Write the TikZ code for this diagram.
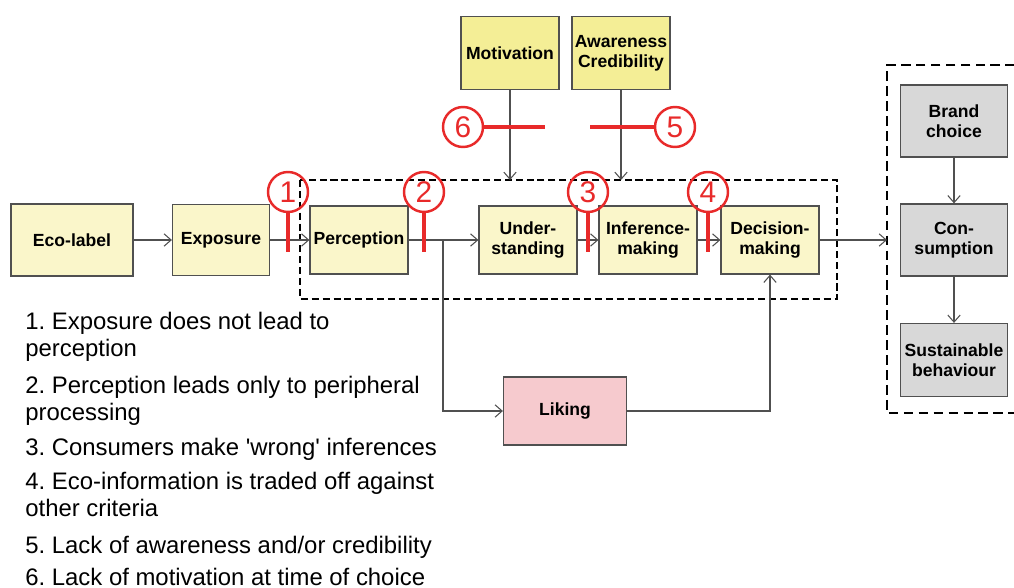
\documentclass[tikz,border=0pt]{standalone}
\usepackage{fontspec}
\setmainfont{Liberation Sans}
\usepackage{xcolor}
\usepackage{tikz}
\usetikzlibrary{arrows.meta}
\frenchspacing

\definecolor{stagefill}{RGB}{250,246,202}
\definecolor{factorfill}{RGB}{244,238,150}
\definecolor{outfill}{RGB}{216,216,216}
\definecolor{likefill}{RGB}{246,202,206}
\definecolor{failred}{RGB}{232,42,42}
\definecolor{edgegray}{RGB}{80,80,80}

\tikzset{
    box/.style={draw=edgegray, line width=0.7pt, align=center, inner sep=1pt,
        font=\bfseries\fontsize{10}{11.5}\selectfont},
    stagebox/.style={box, fill=stagefill, minimum width=1.96cm, minimum height=1.36cm},
    factorbox/.style={box, fill=factorfill, minimum width=1.96cm, minimum height=1.46cm},
    outbox/.style={box, fill=outfill, minimum width=2.14cm, minimum height=1.44cm},
    flow/.style={->, draw=edgegray, line width=0.6pt},
    groupbox/.style={line width=1.2pt, dash pattern=on 4pt off 2.2pt},
    failnum/.style={circle, draw=failred, line width=1.4pt, minimum size=0.8cm, inner sep=0pt,
        text=failred, font=\fontsize{17}{17}\selectfont},
    failbar/.style={draw=failred, line width=2pt},
    itemtext/.style={anchor=base west, inner sep=0pt, align=left,
        font=\fontsize{13.6}{15.3}\selectfont}
}

\begin{document}
\begin{tikzpicture}[x=0.02cm, y=-0.02cm, >={Straight Barb[length=4pt,width=7pt]}]
        \useasboundingbox (0,0) rectangle (1014,588);
        % dashed groups
        \draw[groupbox] (300,180) coordinate (innw) rectangle (837,299);
        \draw[groupbox, dash pattern=on 5.5pt off 3pt] (1030,65) -- (887,65) coordinate (outnw)
            -- (887,413) -- (1030,413);
        \coordinate (outin) at (887,240);

        % main chain
        \node[stagebox, minimum width=2.44cm, minimum height=1.44cm] (eco) at (72,240) {Eco-label};
        \node[stagebox, minimum width=1.94cm, minimum height=1.42cm] (exp) at (221,240) {Exposure};
        \node[stagebox] (per) at (359,240) {Perception};
        \node[stagebox] (und) at (528,240) {Under-\\standing};
        \node[stagebox] (inf) at (648,240) {Inference-\\making};
        \node[stagebox] (dec) at (770,240) {Decision-\\making};
        \node[stagebox, fill=likefill, minimum width=2.46cm] (lik) at (565,411) {Liking};

        % factors
        \node[factorbox] (mot) at (510,53) {Motivation};
        \node[factorbox] (awa) at (621,53) {Awareness\\Credibility};

        % outcomes
        \node[outbox] (bra) at (954,121) {Brand\\choice};
        \node[outbox] (con) at (954,240) {Con-\\sumption};
        \node[outbox, minimum height=1.46cm] (sus) at (954,360) {Sustainable\\behaviour};

        \draw[flow] (eco) -- (exp);
        \draw[flow] (exp) -- (per);
        \draw[flow] (per) -- (und);
        \draw[flow] (und) -- (inf);
        \draw[flow] (inf) -- (dec);
        \draw[flow] (dec) -- (outin);
        \coordinate (split) at (443,240);
        \draw[flow] (split) |- (lik);
        \draw[flow] (lik) -| (dec);
        \draw[flow] (mot) -- (mot |- innw);
        \draw[flow] (awa) -- (awa |- innw);
        \draw[flow] (bra) -- (con);
        \draw[flow] (con) -- (sus);

        % barriers
        \node[failnum] (f1) at (288,192) {1};
        \node[failnum] (f2) at (424,192) {2};
        \node[failnum] (f3) at (588,192) {3};
        \node[failnum] (f4) at (708,192) {4};
        \node[failnum] (f6) at (463,127) {6};
        \node[failnum] (f5) at (675,127) {5};
        \foreach \f in {f1,f2,f3,f4}
            \draw[failbar] (\f.south) -- (\f.south |- 0,252);
        \draw[failbar] (f6.east) -- (545,127);
        \draw[failbar] (f5.west) -- (590,127);

        % key (base = last line)
        \node[itemtext] (k1) at (25,356) {1. Exposure does not lead to\\perception};
        \node[itemtext] (k2) at (25,420) {2. Perception leads only to peripheral\\processing};
        \node[itemtext] (k3) at (25,455) {3. Consumers make \textquotesingle wrong\textquotesingle{} inferences};
        \node[itemtext] (k4) at (25,516) {4. Eco-information is traded off against\\other criteria};
        \node[itemtext] (k5) at (25,553) {5. Lack of awareness and/or credibility};
        \node[itemtext] (k6) at (25,585) {6. Lack of motivation at time of choice};
\end{tikzpicture}
\end{document}
